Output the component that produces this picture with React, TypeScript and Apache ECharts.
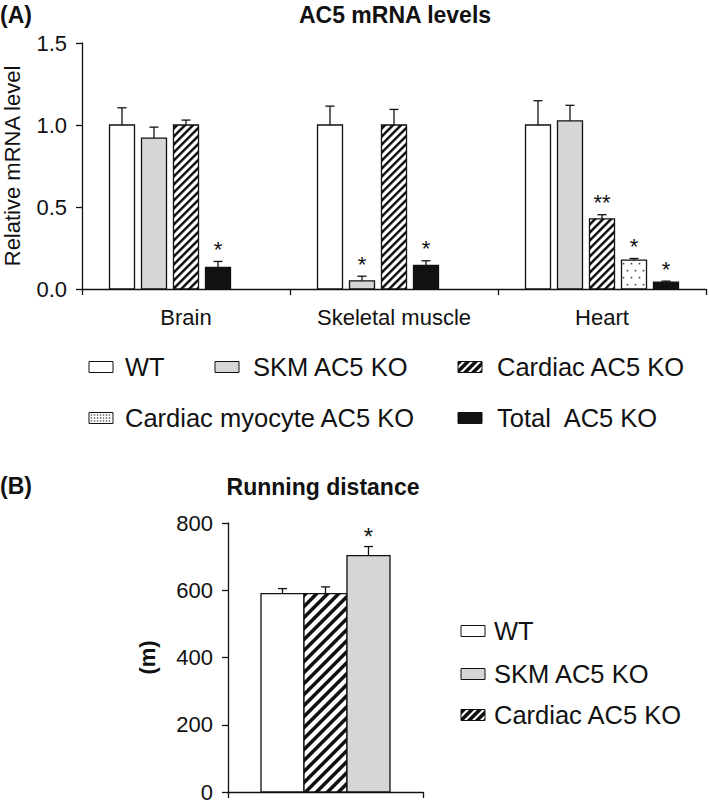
import React, { useEffect, useRef } from "react";
import * as echarts from "echarts";

// ---------- Data ----------
const tissues = ["Brain", "Skeletal muscle", "Heart"];
const groupNames = ["WT", "SKM AC5 KO", "Cardiac AC5 KO", "Cardiac myocyte AC5 KO", "Total  AC5 KO"];

const wtValues = [1.0, 1.0, 1.0];
const wtErr = [0.105, 0.115, 0.148];
const skmValues = [0.92, 0.05, 1.025];
const skmErr = [0.067, 0.028, 0.095];
const cardiacValues = [1.0, 1.0, 0.427];
const cardiacErr = [0.03, 0.095, 0.026];
const myocyteValues: (number | null)[] = [null, null, 0.176];
const myocyteErr: (number | null)[] = [null, null, 0.01];
const totalValues = [0.132, 0.144, 0.042];
const totalErr = [0.036, 0.028, 0.006];

const skmStars = ["", "*", ""];
const cardiacStars = ["", "", "**"];
const myocyteStars = ["", "", "*"];
const totalStars = ["*", "*", "*"];

const mrnaTicks = [0, 0.5, 1.0, 1.5];

const runningGroups = ["WT", "Cardiac AC5 KO", "SKM AC5 KO"];
const runningKinds = [0, 2, 1];
const runningValues = [590, 590, 703];
const runningErr = [15, 20, 27];
const runningStars = ["", "", "*"];
const runningTicks = [0, 200, 400, 600, 800];

// ---------- Styling helpers ----------
const FONT = '"Liberation Sans", Arial, Helvetica, sans-serif';
const INK = "#111";
const GREY = "#d6d6d6";

type Pt = number[];
function clip(pts: Pt[], fn: (p: Pt) => number): Pt[] {
  const out: Pt[] = [];
  const n = pts.length;
  for (let i = 0; i < n; i++) {
    const cur = pts[i];
    const prev = pts[(i + n - 1) % n];
    const dc = fn(cur);
    const dp = fn(prev);
    const inter = () => {
      const t = dp / (dp - dc);
      return [prev[0] + t * (cur[0] - prev[0]), prev[1] + t * (cur[1] - prev[1])];
    };
    if (dc >= 0) {
      if (dp < 0) out.push(inter());
      out.push(cur);
    } else if (dp >= 0) {
      out.push(inter());
    }
  }
  return out;
}

function hatch(x0: number, y0: number, x1: number, y1: number, step: number, band: number) {
  const res: any[] = [];
  const cMin = x0 + y0;
  const cMax = x1 + y1;
  for (let c = Math.floor(cMin / step) * step - band; c < cMax; c += step) {
    let p: Pt[] = [[x0, y0], [x1, y0], [x1, y1], [x0, y1]];
    p = clip(p, (q) => q[0] + q[1] - c);
    if (p.length < 3) continue;
    p = clip(p, (q) => c + band - (q[0] + q[1]));
    if (p.length < 3) continue;
    res.push({ type: "polygon", shape: { points: p }, style: { fill: INK } });
  }
  return res;
}

function dots(x0: number, y0: number, x1: number, y1: number, sx: number, sy: number, size: number) {
  const res: any[] = [];
  let row = 0;
  for (let y = y0 + sy / 2; y < y1 - 1; y += sy, row++) {
    const off = row % 2 ? sx / 2 : 0;
    for (let x = x0 + sx / 2 + off - sx / 4; x < x1 - 1; x += sx) {
      if (x < x0 + 1) continue;
      res.push({ type: "rect", shape: { x: x - size / 2, y: y - size / 2, width: size, height: size }, style: { fill: "#444" } });
    }
  }
  return res;
}

function barShapes(kind: number, x0: number, y0: number, x1: number, y1: number, hStep: number, hBand: number) {
  const w = x1 - x0;
  const h = y1 - y0;
  const fill = kind === 1 ? GREY : kind === 4 ? INK : "#fff";
  const els: any[] = [{ type: "rect", shape: { x: x0, y: y0, width: w, height: h }, style: { fill } }];
  if (kind === 2) els.push(...hatch(x0, y0, x1, y1, hStep, hBand));
  if (kind === 3) els.push(...dots(x0, y0, x1, y1, 8, 7, 1.6));
  els.push({ type: "rect", shape: { x: x0, y: y0, width: w, height: h }, style: { fill: "none", stroke: INK, lineWidth: 1.3 } });
  return els;
}

function errAndStar(cx: number, yTop: number, yErr: number, star: string, fs: number, off: number) {
  const els: any[] = [
    { type: "line", shape: { x1: cx, y1: yTop, x2: cx, y2: yErr }, style: { stroke: INK, lineWidth: 1.3 } },
    { type: "line", shape: { x1: cx - 4.5, y1: yErr, x2: cx + 4.5, y2: yErr }, style: { stroke: INK, lineWidth: 1.3 } },
  ];
  if (star) {
    els.push({
      type: "text",
      x: cx,
      y: yErr - off,
      style: {
        text: star, fontSize: fs, fontFamily: FONT, fill: INK,
        align: "center", verticalAlign: "middle", textAlign: "center", textVerticalAlign: "middle",
      },
    });
  }
  return els;
}

// Build mRNA items (bars packed left within 5 slots per tissue)
const valueSets = [wtValues, skmValues, cardiacValues, myocyteValues, totalValues];
const errSets = [wtErr, skmErr, cardiacErr, myocyteErr, totalErr];
const starSets = [["", "", ""], skmStars, cardiacStars, myocyteStars, totalStars];
type Item = { cat: number; slot: number; value: number; err: number; star: string; kind: number };
const mrnaItems: Item[] = [];
tissues.forEach((_, c) => {
  let slot = 0;
  valueSets.forEach((vals, g) => {
    const v = vals[c];
    if (v == null) return;
    mrnaItems.push({ cat: c, slot, value: v, err: errSets[g][c] as number, star: starSets[g][c], kind: g });
    slot++;
  });
});

function textEl(text: string, x: number, y: number, size: number, bold: boolean, align: string) {
  return {
    type: "text",
    x,
    y,
    style: {
      text, fontSize: size, fontFamily: FONT, fontWeight: bold ? "bold" : "normal", fill: INK,
      align, verticalAlign: "middle", textAlign: align, textVerticalAlign: "middle",
    },
  };
}

function legendItem(kind: number, bx: number, cy: number, tx: number, label: string, fs: number) {
  const w = 24, h = 11;
  const x0 = bx, y0 = cy - h / 2;
  const els: any[] = [{ type: "rect", shape: { x: x0, y: y0, width: w, height: h }, style: { fill: kind === 1 ? GREY : kind === 4 ? INK : "#fff" } }];
  if (kind === 2) els.push(...hatch(x0, y0, x0 + w, y0 + h, 8, 5));
  if (kind === 3) {
    for (let yy = y0 + 2.5; yy < y0 + h - 1; yy += 3) {
      for (let xx = x0 + 2.5; xx < x0 + w - 1; xx += 3) {
        els.push({ type: "rect", shape: { x: xx - 0.7, y: yy - 0.7, width: 1.4, height: 1.4 }, style: { fill: "#555" } });
      }
    }
  }
  els.push({ type: "rect", shape: { x: x0, y: y0, width: w, height: h }, style: { fill: "none", stroke: INK, lineWidth: 1 } });
  els.push(textEl(label, tx, cy, fs, false, "left"));
  return els;
}

export default function App() {
  const ref = useRef<HTMLDivElement>(null);
  useEffect(() => {
    document.body.style.margin = "0";
    if (!ref.current) return;
    const chart = echarts.init(ref.current, undefined, { renderer: "svg" });
    const axisLine = { show: true, lineStyle: { color: INK, width: 1.3 } };
    const axisTick = { show: true, length: 6, lineStyle: { color: INK, width: 1.3 } };
    const labelStyle = { fontSize: 22, color: INK, fontFamily: FONT };
    const LFS = 25.5;

    const graphics: any[] = [
      textEl("(A)", 0, 15, 23, true, "left"),
      textEl("AC5 mRNA levels", 395, 15, 23, true, "center"),
      textEl("(B)", 0, 486, 23, true, "left"),
      textEl("Running distance", 323, 487, 23, true, "center"),
      ...legendItem(0, 89, 367, 125, groupNames[0], LFS),
      ...legendItem(1, 215, 367, 253, groupNames[1], LFS),
      ...legendItem(2, 458, 367, 497, groupNames[2], LFS),
      ...legendItem(3, 89, 418, 125, groupNames[3], LFS),
      ...legendItem(4, 458, 418, 497, groupNames[4], LFS),
      ...legendItem(0, 461, 631, 494, "WT", LFS),
      ...legendItem(1, 461, 674, 494, "SKM AC5 KO", LFS),
      ...legendItem(2, 461, 715, 494, "Cardiac AC5 KO", LFS),
    ];

    chart.setOption({
      animation: false,
      backgroundColor: "#fff",
      grid: [
        { left: 82, top: 43, width: 624, height: 246, containLabel: false, outerBoundsMode: "none" },
        { left: 228, top: 523, width: 195, height: 269, containLabel: false, outerBoundsMode: "none" },
      ],
      xAxis: [
        {
          gridIndex: 0, type: "category", data: tissues, boundaryGap: true,
          axisLine, axisTick: { ...axisTick, alignWithLabel: false },
          axisLabel: { ...labelStyle, margin: 17 },
        },
        {
          gridIndex: 1, type: "category", data: ["Running distance"], boundaryGap: true,
          axisLine, axisTick: { ...axisTick, alignWithLabel: false },
          axisLabel: { show: false },
        },
      ],
      yAxis: [
        {
          gridIndex: 0, type: "value", min: mrnaTicks[0], max: mrnaTicks[mrnaTicks.length - 1], interval: 0.5,
          axisLine, axisTick, splitLine: { show: false },
          axisLabel: { ...labelStyle, margin: 15, formatter: (v: number) => v.toFixed(1) },
          name: "Relative mRNA level", nameLocation: "middle", nameGap: 59, nameRotate: 90,
          nameTextStyle: { fontSize: 22, color: INK, fontFamily: FONT },
        },
        {
          gridIndex: 1, type: "value", min: runningTicks[0], max: runningTicks[runningTicks.length - 1], interval: 200,
          axisLine, axisTick, splitLine: { show: false },
          axisLabel: { ...labelStyle, margin: 15 },
          name: "(m)", nameLocation: "middle", nameGap: 70, nameRotate: 90,
          nameTextStyle: { fontSize: 22, fontWeight: "bold", color: INK, fontFamily: FONT },
        },
      ],
      series: [
        {
          type: "custom",
          name: "AC5 mRNA levels",
          xAxisIndex: 0,
          yAxisIndex: 0,
          encode: { x: 0, y: 2 },
          data: mrnaItems.map((it) => [it.cat, it.slot, it.value, it.err, it.kind]),
          renderItem: (params: any, api: any) => {
            const it = mrnaItems[params.dataIndex];
            const catW = api.size([1, 0])[0];
            const step = (catW * 32) / 208;
            const bw = (catW * 25) / 208;
            const base = api.coord([it.cat, 0]);
            const cx = base[0] + (it.slot - 2) * step;
            const yTop = api.coord([it.cat, it.value])[1];
            const yErr = api.coord([it.cat, it.value + it.err])[1];
            const children = [
              ...barShapes(it.kind, cx - bw / 2, yTop, cx + bw / 2, base[1], 8, 3.6),
              ...errAndStar(cx, yTop, yErr, it.star, 22, 12),
            ];
            return { type: "group", children };
          },
        },
        {
          type: "custom",
          name: "Running distance",
          xAxisIndex: 1,
          yAxisIndex: 1,
          encode: { x: 0, y: 2 },
          data: runningValues.map((v, i) => [0, i, v, runningErr[i], runningKinds[i]]),
          renderItem: (params: any, api: any) => {
            const i = params.dataIndex;
            const catW = api.size([1, 0])[0];
            const bw = (catW * 43) / 195;
            const base = api.coord([0, 0]);
            const cx = base[0] + (i - 1) * bw;
            const v = runningValues[i];
            const yTop = api.coord([0, v])[1];
            const yErr = api.coord([0, v + runningErr[i]])[1];
            const children = [
              ...barShapes(runningKinds[i], cx - bw / 2, yTop, cx + bw / 2, base[1], 11, 5),
              ...errAndStar(cx, yTop, yErr, runningStars[i], 24, 10),
            ];
            return { type: "group", children };
          },
        },
      ],
      graphic: { elements: graphics },
    });
    return () => chart.dispose();
  }, []);
  return <div ref={ref} style={{ width: 709, height: 806 }} />;
}
